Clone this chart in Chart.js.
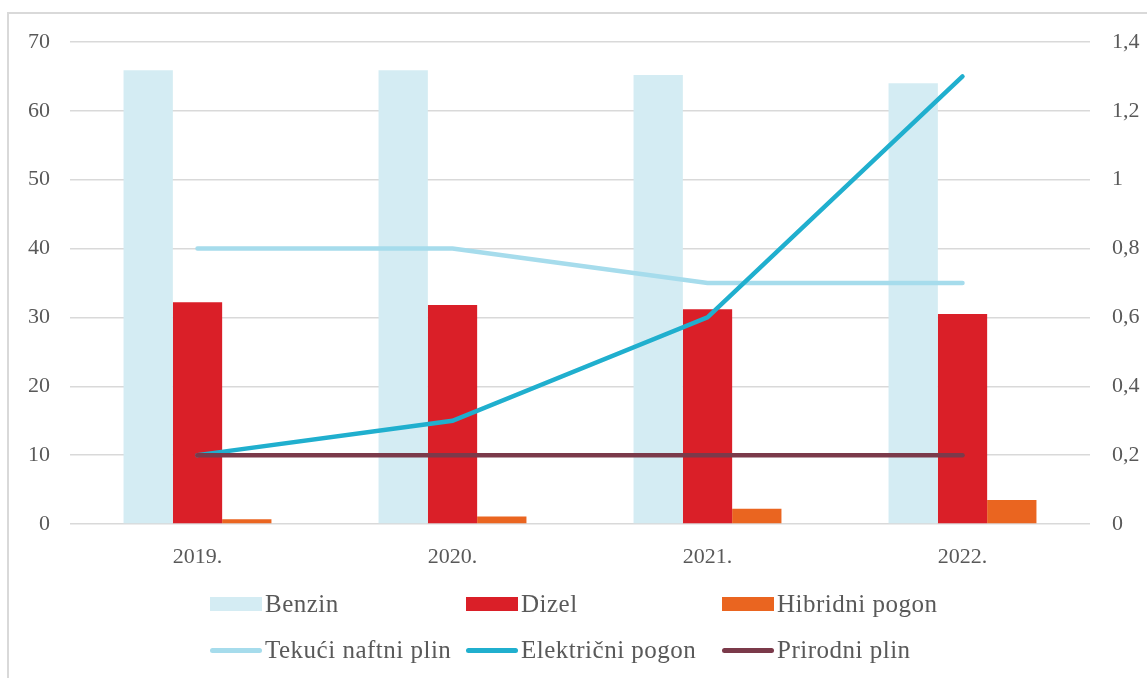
<!DOCTYPE html>
<html>
<head>
<meta charset="utf-8">
<script src="https://cdn.jsdelivr.net/npm/chart.js@4.4.0/dist/chart.umd.min.js"></script>
<style>
    html, body { margin: 0; padding: 0; background: #fff; }
    #wrap { position: relative; width: 1147px; height: 678px; overflow: hidden; }
    #frame { position: absolute; left: 7px; top: 12px; width: 1200px; height: 700px;
             border-left: 2px solid #d9d9d9; border-top: 2px solid #d9d9d9; }
    canvas { position: absolute; left: 0; top: 0; }
    .lg { position: absolute; height: 30px; display: flex; align-items: center;
          font-family: "Liberation Serif", serif; font-size: 25px; letter-spacing: 0.5px;
          color: #595959; white-space: nowrap; }
    .lg .sw { width: 52px; height: 14px; margin-right: 3px; }
    .lg .ln { width: 52px; height: 5px; border-radius: 3px; margin-right: 3px; }
</style>
</head>
<body>
<div id="wrap">
    <div id="frame"></div>
    <canvas id="chart" width="1147" height="678"></canvas>
    <div id="legend"></div>
</div>
<script>
const years = ['2019.', '2020.', '2021.', '2022.'];

// left axis (bars)
const benzin = [65.9, 65.9, 65.2, 64.0];
const dizel = [32.2, 31.8, 31.2, 30.5];
const hibridni = [0.7, 1.1, 2.2, 3.5];

// right axis (lines)
const tekuciPlin = [0.8, 0.8, 0.7, 0.7];
const elektricni = [0.2, 0.3, 0.6, 1.3];
const prirodniPlin = [0.2, 0.2, 0.2, 0.2];

const tickFont = { family: 'Liberation Serif', size: 22 };
const grey = '#595959';

function bar(label, data, color) {
    return { type: 'bar', label: label, data: data, backgroundColor: color, yAxisID: 'y',
             order: 3, categoryPercentage: 0.58, barPercentage: 1 };
}
function line(label, data, color, order) {
    return { type: 'line', label: label, data: data, borderColor: color, backgroundColor: color,
             borderWidth: 4.5, borderCapStyle: 'round', pointRadius: 0, tension: 0,
             yAxisID: 'y1', order: order };
}

const datasets = [
    bar('Benzin', benzin, '#d4ecf3'),
    bar('Dizel', dizel, '#da1f28'),
    bar('Hibridni pogon', hibridni, '#ea6520'),
    line('Tekući naftni plin', tekuciPlin, '#a6dcec', 2),
    line('Električni pogon', elektricni, '#20afce', 1),
    line('Prirodni plin', prirodniPlin, '#7b3a4a', 0)
];

new Chart(document.getElementById('chart'), {
    data: { labels: years, datasets: datasets },
    options: {
        responsive: false,
        animation: false,
        layout: { padding: { top: 42, left: 0, right: 0, bottom: 0 } },
        plugins: { legend: { display: false }, tooltip: { enabled: false } },
        scales: {
            x: {
                grid: { display: false },
                border: { display: false },
                ticks: { color: grey, font: tickFont, padding: 12 },
                afterFit: s => { s.height = 154; }
            },
            y: {
                position: 'left',
                min: 0, max: 70,
                ticks: { stepSize: 10, color: grey, font: tickFont, padding: 20 },
                grid: { color: '#d9d9d9', lineWidth: 1.5, drawTicks: false },
                border: { display: false },
                afterFit: s => { s.width = 70; }
            },
            y1: {
                position: 'right',
                min: 0, max: 1.4,
                ticks: {
                    stepSize: 0.2, color: grey, font: tickFont, padding: 22,
                    callback: v => String(Math.round(v * 10) / 10).replace('.', ',')
                },
                grid: { display: false, drawTicks: false },
                border: { display: false },
                afterFit: s => { s.width = 57; }
            }
        }
    }
});

// legend laid out in a 3-column grid like the original
const legendEl = document.getElementById('legend');
const cols = [210, 466, 722];
const rows = [589, 635];
datasets.forEach((ds, i) => {
    const item = document.createElement('div');
    item.className = 'lg';
    item.style.left = cols[i % 3] + 'px';
    item.style.top = rows[Math.floor(i / 3)] + 'px';
    const mark = document.createElement('span');
    mark.className = ds.type === 'bar' ? 'sw' : 'ln';
    mark.style.background = ds.type === 'bar' ? ds.backgroundColor : ds.borderColor;
    item.appendChild(mark);
    item.appendChild(document.createTextNode(ds.label));
    legendEl.appendChild(item);
});
</script>
</body>
</html>
